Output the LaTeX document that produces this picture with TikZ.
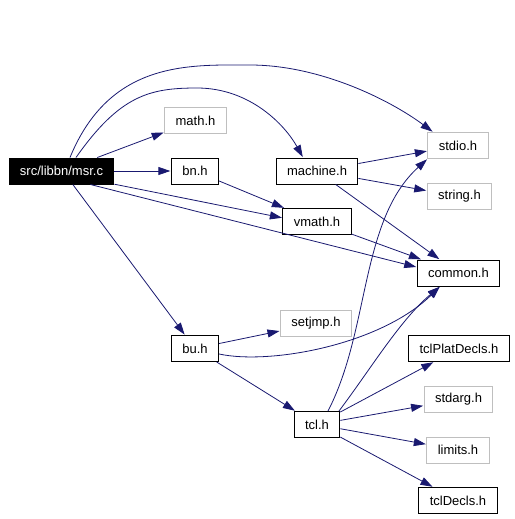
\documentclass[tikz,border=0pt]{standalone}
\usepackage{fontspec}
\setmainfont{Liberation Sans}
\usetikzlibrary{arrows.meta}
\definecolor{edgeblue}{RGB}{25,25,112}
\tikzset{
  hdr/.style={rectangle, draw=black, line width=0.75pt, minimum height=19.5pt,
              inner xsep=8.2pt, inner ysep=0pt, font=\fontsize{9.75}{11}\selectfont},
  sys/.style={hdr, draw=gray!50},
  src/.style={hdr, fill=black, text=white},
  dep/.style={draw=edgeblue, line width=0.6pt,
              -{Triangle[length=9pt, width=6pt]}, shorten >=0.4pt},
}

\begin{document}
\begin{tikzpicture}[x=0.75pt, y=-0.75pt]
  \useasboundingbox (0,0) rectangle (515,519);
  % files
  \node[src] (msr) at (61.5,171) {src/libbn/msr.c};
  \node[sys] (mathh) at (195.5,120.5) {math.h};
  \node[hdr] (bnh) at (195,171) {bn.h};
  \node[hdr] (bu) at (195,348.5) {bu.h};
  \node[hdr] (machine) at (317,171) {machine.h};
  \node[hdr] (vmath) at (317,221.5) {vmath.h};
  \node[sys] (setjmp) at (316,323.5) {setjmp.h};
  \node[hdr] (tcl) at (317,424.5) {tcl.h};
  \node[sys] (stdio) at (458,145.5) {stdio.h};
  \node[sys] (string) at (459.5,196.5) {string.h};
  \node[hdr] (common) at (458.5,273) {common.h};
  \node[hdr] (tclplat) at (459,348.5) {tclPlatDecls.h};
  \node[sys] (stdarg) at (458.5,399.5) {stdarg.h};
  \node[sys] (limits) at (458,450) {limits.h};
  \node[hdr] (tcldecls) at (458,500.5) {tclDecls.h};
  % msr.c
  \draw[dep] (msr) -- (mathh);
  \draw[dep] (msr) -- (bnh);
  \draw[dep] (msr.-14) -- (vmath.174);
  \draw[dep] (msr.-25) -- (common.172);
  \draw[dep] (msr.-50) -- (bu);
  \draw[dep] (msr.north -| 70,0) .. controls (110,60) and (190,65) .. (250,65)
    .. controls (320,65) and (390,100) .. (stdio.north -| 433,0);
  \draw[dep] (msr.north -| 76,0) .. controls (120,95) and (150,88) .. (197,88)
    .. controls (250,88) and (285,125) .. (machine.north -| 303,0);
  % headers
  \draw[dep] (bnh) -- (vmath);
  \draw[dep] (machine) -- (stdio);
  \draw[dep] (machine) -- (string);
  \draw[dep] (machine) -- (common);
  \draw[dep] (vmath) -- (common);
  \draw[dep] (bu) -- (setjmp);
  \draw[dep] (bu) -- (tcl);
  \draw[dep] (bu.east |- 0,354) .. controls (270,365) and (380,345) .. (common.south -| 440,0);
  % tcl.h
  \draw[dep] (tcl.north -| 328,0) .. controls (370,330) and (360,220) .. (stdio.south west);
  \draw[dep] (tcl.north -| 339,0) .. controls (370,370) and (400,320) .. (common.south -| 440,0);
  \draw[dep] (tcl) -- (tclplat);
  \draw[dep] (tcl) -- (stdarg);
  \draw[dep] (tcl) -- (limits);
  \draw[dep] (tcl) -- (tcldecls);
\end{tikzpicture}
\end{document}
